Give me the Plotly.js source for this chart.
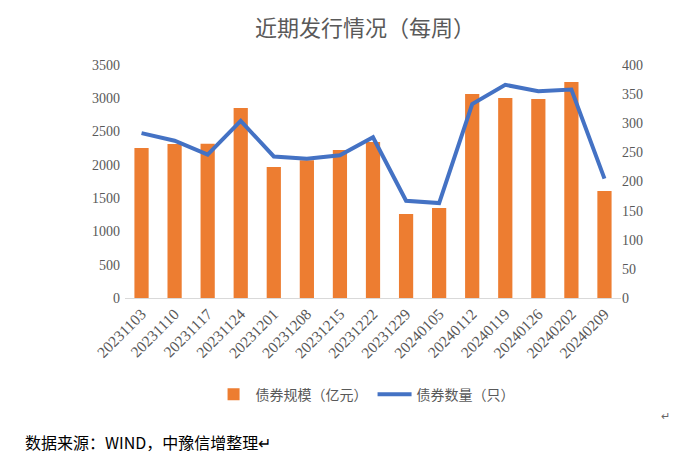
<!DOCTYPE html>
<html>
<head>
<meta charset="utf-8">
<script src="https://cdn.plot.ly/plotly-3.0.1.min.js"></script>
<style>html,body{margin:0;padding:0;background:#fff;}#chart{width:681px;height:465px;}</style>
</head>
<body>
<div id="chart"></div>
<script>
const categories = ["20231103","20231110","20231117","20231124","20231201","20231208","20231215","20231222","20231229","20240105","20240112","20240119","20240126","20240202","20240209"];
const scaleValues = [2253, 2313, 2318, 2854, 1968, 2068, 2223, 2343, 1262, 1352, 3064, 3004, 2989, 3245, 1607];
const countValues = [283, 270, 246, 304, 243, 239, 245, 276, 167, 163, 333, 366, 355, 358, 205];
const seriesNames = ["债券规模（亿元）", "债券数量（只）"];
const titleText = "近期发行情况（每周）";
const sourceText = "数据来源：WIND，中豫信增整理↵";

const serif = "Liberation Serif, Times New Roman, serif";
const cjk = "Noto Sans CJK SC, sans-serif";
const gray = "#595959";

const traces = [
  {type: "bar", x: categories, y: scaleValues, name: seriesNames[0],
   marker: {color: "#ED7D31"}, width: 0.43, yaxis: "y"},
  {type: "scatter", mode: "lines", x: categories, y: countValues, name: seriesNames[1],
   line: {color: "#4472C4", width: 4}, yaxis: "y2"}
];

const layout = {
  width: 681, height: 465,
  margin: {l: 125, r: 60, t: 65, b: 167},
  paper_bgcolor: "#fff", plot_bgcolor: "#fff",
  title: {text: titleText, font: {family: cjk, size: 22, color: gray}, x: 0.536, xanchor: "center", y: 0.94, yanchor: "middle"},
  showlegend: true,
  legend: {orientation: "h", x: 0.485, xanchor: "center", y: -0.415, yanchor: "middle",
           font: {family: cjk, size: 14, color: gray}, traceorder: "normal", itemwidth: 34},
  xaxis: {type: "category", tickangle: -45, ticks: "", showgrid: false, showline: true,
          linecolor: "#d9d9d9", linewidth: 1, tickfont: {family: serif, size: 15.5, color: gray}},
  yaxis: {range: [0, 3500], dtick: 500, showgrid: false, zeroline: false, showline: false,
          tickfont: {family: serif, size: 14, color: gray}, ticklabelstandoff: 4},
  yaxis2: {range: [0, 400], dtick: 50, overlaying: "y", side: "right", showgrid: false,
           zeroline: false, showline: false, tickfont: {family: serif, size: 14, color: gray}},
  annotations: [
    {text: sourceText, xref: "paper", yref: "paper", x: -0.205, y: -0.62, xanchor: "left", yanchor: "middle",
     showarrow: false, font: {family: cjk, size: 16, color: "#000"}},
    {text: "↵", xref: "paper", yref: "paper", x: 1.09, y: -0.5, xanchor: "center", yanchor: "middle",
     showarrow: false, font: {family: cjk, size: 11, color: "#666"}}
  ]
};

Plotly.newPlot("chart", traces, layout, {displayModeBar: false});
</script>
</body>
</html>
